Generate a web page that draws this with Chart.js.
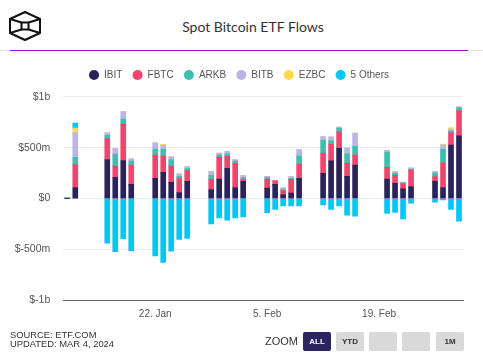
<!DOCTYPE html>
<html><head><meta charset="utf-8">
<script src="https://cdn.jsdelivr.net/npm/chart.js@4"></script>
<style>
html,body{margin:0;padding:0;background:#fff;width:483px;height:356px;overflow:hidden;font-family:"Liberation Sans",Arial,sans-serif;}
#wrap{position:absolute;left:0;top:56px;width:483px;height:300px;}
#title{position:absolute;left:0;width:506px;top:18px;text-align:center;font-family:Lato,"Open Sans",sans-serif;font-size:14px;color:#333;}
#rule{position:absolute;left:0;top:50px;width:483px;height:1px;background:#eadcf3;}
#rule2{position:absolute;left:10px;top:50px;width:458px;height:1px;background:#a10cf0;}
.foot{position:absolute;left:10px;font-size:9.4px;color:#333;line-height:10px;}
#zoom{position:absolute;left:265px;top:335px;font-size:11px;color:#333;}
.btn{position:absolute;top:332px;width:28px;height:19px;border-radius:2px;background:#d9d9d9;font-size:8px;font-weight:bold;color:#333;text-align:center;line-height:19px;}
</style></head><body>
<svg style="position:absolute;left:8px;top:10px" width="34" height="32" viewBox="0 0 34 32">
 <g fill="none" stroke="#111" stroke-width="2" stroke-linejoin="round">
  <polygon points="17,2 32,9 32,23 17,30 2,23 2,9"/>
  <rect x="13.5" y="12.5" width="7" height="7"/>
  <line x1="2" y1="9" x2="13.5" y2="12.5"/>
  <line x1="32" y1="9" x2="20.5" y2="12.5"/>
  <line x1="2" y1="23" x2="13.5" y2="19.5"/>
  <line x1="32" y1="23" x2="20.5" y2="19.5"/>
 </g>
</svg>
<div id="title">Spot Bitcoin ETF Flows</div>
<div id="rule"></div><div id="rule2"></div>
<div id="wrap"><canvas id="c" width="483" height="300"></canvas></div>
<div class="foot" style="top:330px">SOURCE: ETF.COM</div>
<div class="foot" style="top:339px">UPDATED: MAR 4, 2024</div>
<div id="zoom">ZOOM</div>
<div class="btn" style="left:303px;background:#2a2460;color:#fff">ALL</div>
<div class="btn" style="left:336px">YTD</div>
<div class="btn" style="left:369px"></div>
<div class="btn" style="left:402px"></div>
<div class="btn" style="left:436px">1M</div>
<script>
// trading days (values in $ millions)
const tradingDays = ['2024-01-11','2024-01-12','2024-01-16','2024-01-17','2024-01-18','2024-01-19',
 '2024-01-22','2024-01-23','2024-01-24','2024-01-25','2024-01-26',
 '2024-01-29','2024-01-30','2024-01-31','2024-02-01','2024-02-02',
 '2024-02-05','2024-02-06','2024-02-07','2024-02-08','2024-02-09',
 '2024-02-12','2024-02-13','2024-02-14','2024-02-15','2024-02-16',
 '2024-02-20','2024-02-21','2024-02-22','2024-02-23',
 '2024-02-26','2024-02-27','2024-02-28','2024-02-29'];
const seriesNames = ['IBIT','FBTC','ARKB','BITB','EZBC','5 Others'];
const seriesColors = ['#2b2358','#f2456e','#3ebfae','#bbb5e6','#fcd94a','#00c8f4'];
const ibit   = [0,109,384,209,374,139, 199,258,159,60,169, 89,192,298,109,169, 103,139,36,53,199, 248,371,493,218,328, 192,149,96,119, 169,109,526,616];
const fbtc   = [0,225,202,109,354,189, 228,159,159,136,106, 99,215,116,238,23, 86,36,43,136,139, 199,162,162,129,99, 116,79,50,162, 46,245,119,248];
const arkb   = [10,70,36,116,53,40, 60,66,63,23,20, 40,20,23,20,13, 17,0,10,7,79, 126,33,36,96,86, 146,20,10,7, 36,129,17,26];
const bitb   = [0,245,23,60,73,23, 60,40,30,23,20, 36,20,26,17,20, 13,0,17,20,63, 36,40,10,50,129, 20,17,0,13, 17,43,17,10];
const ezbc   = [0,43,0,0,0,0, 0,10,0,0,0, 0,0,0,0,0, 0,0,0,0,0, 0,0,0,10,0, 0,0,0,0, 0,10,17,0];
const others = [0,50,-437,-520,-394,-513, -563,-626,-516,-400,-390, -248,-189,-212,-189,-179, -139,-106,-73,-73,-73, -63,-106,-73,-162,-172, -146,-136,-199,-46, -36,-13,-106,-222];
const xTickLabels = ['22. Jan','5. Feb','19. Feb'];
const yTickValues = [-1000,-500,0,500,1000];
const yTickLabels = ['$-1b','$-500m','$0','$500m','$1b'];

// calendar categories from first trading day to last
const months = ['Jan','Feb','Mar'];
const labels = [], keys = [];
{
  const start = new Date(tradingDays[0]+'T00:00:00Z');
  const end = new Date(tradingDays[tradingDays.length-1]+'T00:00:00Z');
  for (let d = new Date(start); d <= end; d.setUTCDate(d.getUTCDate()+1)) {
    keys.push(d.toISOString().slice(0,10));
    labels.push(d.getUTCDate() + '. ' + months[d.getUTCMonth()]);
  }
}
function onCalendar(arr){ return keys.map(k => { const i = tradingDays.indexOf(k); return i < 0 ? null : arr[i]; }); }
const allSeries = [ibit, fbtc, arkb, bitb, ezbc, others];

const sans = '"Liberation Sans", Arial, sans-serif';
const legendHeight = {
  id:'legendHeight',
  beforeUpdate(chart){
    if (chart.legend && !chart.legend._patched) {
      const orig = chart.legend.fit;
      chart.legend.fit = function(){ orig.call(this); this.height = 36.9; };
      chart.legend._patched = true;
    }
  }
};

new Chart(document.getElementById('c'), {
  type:'bar',
  data:{
    labels: labels,
    datasets: seriesNames.map((n,i) => ({
      label: n,
      data: onCalendar(allSeries[i]),
      backgroundColor: seriesColors[i],
      borderWidth: 0,
      barThickness: 5,
      pointStyle: 'circle'
    }))
  },
  options:{
    responsive:false,
    animation:false,
    layout:{padding:{left:15,right:20,top:3.8,bottom:0}},
    plugins:{
      legend:{
        position:'top',
        labels:{usePointStyle:true,boxHeight:7.1,boxWidth:10,padding:10.2,color:'#555',
          font:{family:sans,size:10}}
      },
      tooltip:{enabled:false},
      title:{display:false}
    },
    scales:{
      x:{
        stacked:true,
        grid:{display:false,drawTicks:false},
        border:{display:true,color:'#666',width:1},
        ticks:{autoSkip:false,maxRotation:0,padding:8,color:'#555',
          font:{family:sans,size:10},
          callback:function(v){ const l = this.getLabelForValue(v); return xTickLabels.includes(l) ? l : ''; }},
        afterFit(s){ s.height = 55.5; }
      },
      y:{
        stacked:true,
        min:-1000,max:1000,
        afterBuildTicks(s){ s.ticks = yTickValues.map(v => ({value:v})); },
        grid:{drawTicks:false,color:c => (c.tick && c.tick.value === -1000) ? 'rgba(0,0,0,0)' : '#ebebeb'},
        border:{display:false},
        ticks:{padding:13,color:'#555',
          font:{family:sans,size:10.5},
          callback:v => yTickLabels[yTickValues.indexOf(v)]},
        afterFit(s){ s.width = 48.3; }
      }
    }
  },
  plugins:[legendHeight]
});
</script>
</body></html>
